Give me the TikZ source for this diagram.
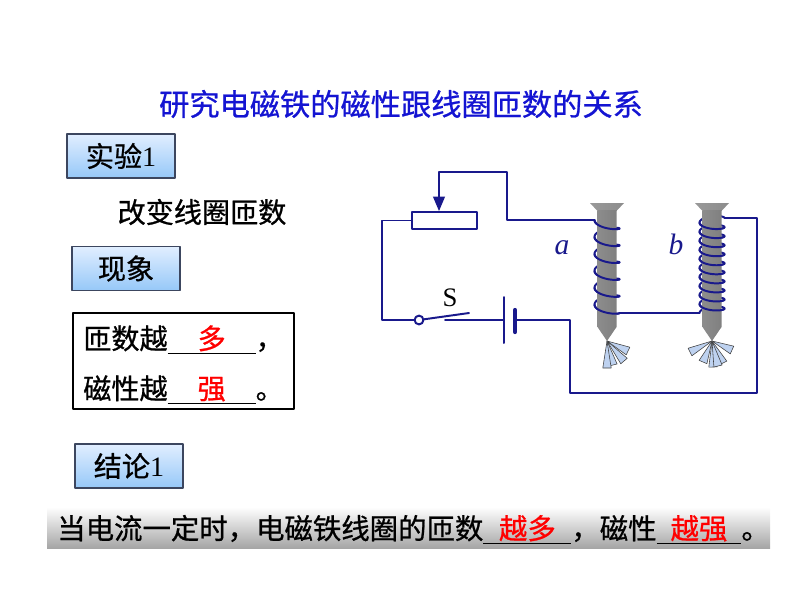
\documentclass[tikz,border=0pt]{standalone}
\usepackage{fontspec}
\usepackage{xcolor}
\usepackage{tikz}
\usetikzlibrary{arrows,calc}
\setmainfont{Noto Sans CJK SC}[FakeBold=0.8]
\newfontfamily\serif{Liberation Serif}
\definecolor{wire}{RGB}{25,25,140}
\definecolor{titleblue}{RGB}{20,20,210}
\definecolor{tackblue}{RGB}{190,210,240}
\definecolor{boxedge}{RGB}{60,70,95}
\definecolor{boxtop}{RGB}{225,238,255}
\definecolor{boxbot}{RGB}{150,200,248}
\newcommand{\fillin}[2]{\underline{\makebox[#1]{\color{red}#2}}}
\tikzset{
	wire/.style={color=wire,line width=1.4pt},
	tagbox/.style={draw=boxedge,line width=1pt,top color=boxtop,bottom color=boxbot,minimum width=2.7cm,minimum height=1.1cm,inner sep=0pt},
	tack/.style={fill=tackblue,draw=black!75,line width=0.4pt}
}
\begin{document}
\begin{tikzpicture}[line cap=round,line join=round,>=triangle 45,x=0.025cm,y=-0.025cm,font=\fontsize{20}{24}\selectfont]
		\clip(0,0) rectangle (800,600);
		% title and left column
		\node[text=titleblue,font=\fontsize{21.5}{26}\selectfont] (title) at (401,104) {研究电磁铁的磁性跟线圈匝数的关系};
		\node[tagbox] (exp) at (121,156) {实验{\serif 1}};
		\node (change) at (202,212) {改变线圈匝数};
		\node[tagbox] (phen) at (126,268.5) {现象};
		\node[draw,line width=1.4pt,minimum width=5.525cm,minimum height=2.4cm,inner sep=0pt] (obs) at (183.5,361) {};
		\node[anchor=base west,inner sep=0pt] (obs1) at (83,349) {匝数越\fillin{2.2cm}{多}，};
		\node[anchor=base west,inner sep=0pt] (obs2) at (83,399) {磁性越\fillin{2.2cm}{强}。};
		\node[tagbox] (concl) at (129,466) {结论{\serif 1}};
		\shade[top color=white,bottom color=black!35] (47,507) rectangle (770,548);
		\node[anchor=base west,inner sep=0pt,font=\fontsize{20.2}{24}\selectfont] (res) at (57,539) {当电流一定时，电磁铁线圈的匝数\fillin{2.2cm}{越多}，磁性\fillin{2.12cm}{越强}。};
		% coils (back side), then nails, then coils (front side)
		\draw[wire] plot[domain=-90:1890,samples=240,variable=\t] ({607+12.5*sin(\t)},{220+(\t+90)*0.04697+4*cos(\t)});
		\draw[wire] plot[domain=90:3870,samples=420,variable=\t] ({712+12.5*sin(\t)},{218+(\t-90)*0.025132+4*cos(\t)});
		\foreach \cx in {607,712} {
			\shade[left color=black!40,middle color=black!10,right color=black!45] (\cx-17,203) -- (\cx+17,203) -- (\cx+9.5,211) -- (\cx-9.5,211) -- cycle;
			\shade[left color=black!45,middle color=black!10,right color=black!50] (\cx-9.5,210) -- (\cx+9.5,210) -- (\cx+9.5,327) -- (\cx,341) -- (\cx-9.5,327) -- cycle;
		}
		\foreach \k in {0,...,5} {
			\pgfmathsetmacro{\lo}{-90+360*\k}
			\pgfmathsetmacro{\hi}{90+360*\k}
			\draw[wire] plot[domain=\lo:\hi,samples=40,variable=\t] ({607+12.5*sin(\t)},{220+(\t+90)*0.04697+4*cos(\t)});
		}
		\foreach \k in {1,...,10} {
			\pgfmathsetmacro{\lo}{-90+360*\k}
			\pgfmathsetmacro{\hi}{90+360*\k}
			\draw[wire] plot[domain=\lo:\hi,samples=40,variable=\t] ({712+12.5*sin(\t)},{218+(\t-90)*0.025132+4*cos(\t)});
		}
		% tacks
		\coordinate (tipA) at (607,341);
		\coordinate (tipB) at (712,341);
		\foreach \dx/\dy in {21/10,17/20,6/24,0/27} {
			\coordinate (e) at ($(tipA)+(\dx,\dy)$);
			\filldraw[tack] (tipA) -- ($(e)!3pt!90:(tipA)$) -- ($(e)!3pt!-90:(tipA)$) -- cycle;
		}
		\foreach \dx/\dy in {-22/11,20/9,-9/21,11/22,1/26,6/25} {
			\coordinate (e) at ($(tipB)+(\dx,\dy)$);
			\filldraw[tack] (tipB) -- ($(e)!3pt!90:(tipB)$) -- ($(e)!3pt!-90:(tipB)$) -- cycle;
		}
		% circuit
		\coordinate (aIn) at (594.5,220);
		\coordinate (aOut) at (619.5,313);
		\coordinate (bIn) at (699.5,313);
		\coordinate (bOut) at (724.5,218);
		\coordinate (bp) at (504,320);
		\coordinate (bn) at (515,320);
		\coordinate (slide) at (439,172);
		\coordinate (blade) at (469,313);
		\node[draw=wire,line width=1.4pt,fill=white,minimum width=1.625cm,minimum height=0.425cm,inner sep=0pt] (rh) at (444.5,220.5) {};
		\node[circle,draw=wire,line width=1.4pt,fill=white,minimum size=0.22cm,inner sep=0pt] (sw) at (419,320) {};
		\draw[wire,->] (aIn) -- (507,220) |- (slide) -- (slide |- rh.north);
		\draw[wire] (rh.west) -| (382,320) -- (sw);
		\draw[wire] (sw) -- (blade);
		\draw[wire] (445,320) -- (bp);
		\draw[wire] (504,297) -- (504,343);
		\draw[wire,line width=3pt] (515,310) -- (515,332);
		\draw[wire] (bn) -- (570,320) -- (570,393) -| (757,218) -- (bOut);
		\draw[wire] (aOut) -- (bIn);
		\node[text=wire,font=\fontsize{21}{24}\selectfont\serif\itshape] (la) at (562,248) {a};
		\node[text=wire,font=\fontsize{21}{24}\selectfont\serif\itshape] (lb) at (676,244) {b};
		\node[font=\fontsize{19}{22}\selectfont\serif] (lS) at (450,298) {S};
	\end{tikzpicture}
\end{document}
